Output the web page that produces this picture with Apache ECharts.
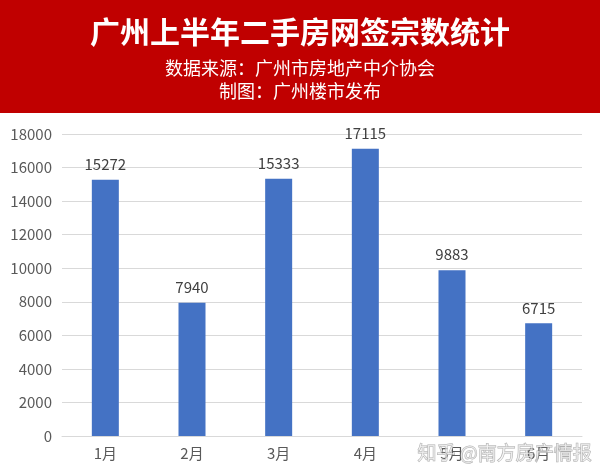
<!DOCTYPE html>
<html><head><meta charset="utf-8">
<script src="https://cdn.jsdelivr.net/npm/echarts@6/dist/echarts.min.js"></script>
<style>html,body{margin:0;padding:0;background:#fff}#c{width:600px;height:476px}</style>
</head><body><div id="c"></div>
<script>
const categories = ['1月','2月','3月','4月','5月','6月'];
const values = [15272, 7940, 15333, 17115, 9883, 6715];
const titleText = '广州上半年二手房网签宗数统计';
const subText1 = '数据来源：广州市房地产中介协会';
const subText2 = '制图：广州楼市发布';
const chart = echarts.init(document.getElementById('c'));
const font = '"Noto Sans CJK SC", "Noto Sans", sans-serif';
chart.setOption({
  backgroundColor: '#fff',
  animation: false,
  graphic: [
    {type:'rect', left:0, top:0, shape:{width:600, height:113}, style:{fill:'#c00000'}, z:0},
    {type:'text', left:'center', top:17, style:{text:titleText, fill:'#fff', font:'bold 30px ' + font}},
    {type:'text', left:'center', top:59, style:{text:subText1, fill:'#fff', font:'18px ' + font}},
    {type:'text', left:'center', top:82, style:{text:subText2, fill:'#fff', font:'18px ' + font}},
    {type:'text', left:417, top:443, z:100, style:{text:'知乎 @南方房产情报', fill:'rgba(255,255,255,0.6)', stroke:'rgba(120,120,120,0.6)', lineWidth:1, font:'19px ' + font}}
  ],
  grid: {left:62, right:18, top:134, bottom:40},
  xAxis: {
    type:'category', data:categories,
    axisLine:{lineStyle:{color:'#d9d9d9'}}, axisTick:{show:false},
    axisLabel:{color:'#595959', fontSize:15, margin:10, fontFamily:font}
  },
  yAxis: {
    type:'value', min:0, max:18000, interval:2000,
    axisLine:{show:false}, axisTick:{show:false},
    splitLine:{lineStyle:{color:'#d9d9d9'}},
    axisLabel:{color:'#595959', fontSize:15, margin:10, fontFamily:font, formatter: v => String(v)}
  },
  series: [{
    type:'bar', data:values, barWidth:27,
    itemStyle:{color:'#4472c4'},
    label:{show:true, position:'top', distance:8, color:'#404040', fontSize:15, fontFamily:font}
  }]
});
</script></body></html>
